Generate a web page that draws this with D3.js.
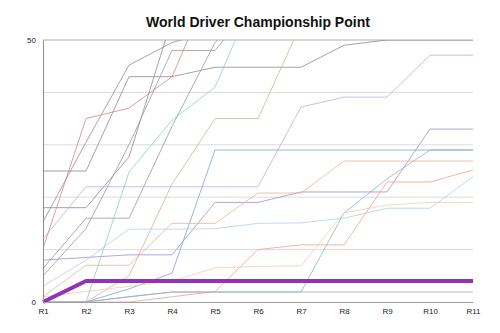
<!DOCTYPE html>
<html>
<head>
<meta charset="utf-8">
<script src="https://cdn.jsdelivr.net/npm/d3@7"></script>
<style>
  html, body { margin: 0; padding: 0; background: #fff; }
  svg { display: block; }
</style>
</head>
<body>
<svg id="chart" width="500" height="333"></svg>
<script>
// Rounds of the season
const rounds = ["R1", "R2", "R3", "R4", "R5", "R6", "R7", "R8", "R9", "R10", "R11"];
const yTicks = [0, 50];
const gridValues = [10, 20, 30, 40];

// Cumulative points per driver (values above 50 run off the top of the plot)
const driverA = [15.3, 30.5, 45.2, 49.5, 52, 56, 58, 60, 62, 64, 66];
const driverB = [25, 25, 43, 43, 44.8, 44.8, 44.8, 49, 50, 50, 50];
const driverC = [18, 18, 27.7, 54, 60, 62, 64, 66, 68, 70, 72];
const driverD = [6.4, 16, 16, 33.5, 49.5, 58, 60, 62, 64, 66, 68];
const driverE = [0, 0, 5, 22.5, 35, 35, 53, 58, 60, 62, 64];
const driverF = [12, 22, 22, 22, 22, 22, 37.2, 39.1, 39.1, 47.1, 47.1];
const driverG = [8, 8.5, 9, 9, 19, 19, 21, 21, 21, 33, 33];
const driverH = [0, 0, 2.5, 5.5, 29, 29, 29, 29, 29, 29, 29];
const driverJ = [0, 0, 1, 1.9, 1.9, 1.9, 1.9, 17, 23.5, 29, 29];
const driverK = [0, 0, 1, 1.9, 1.9, 1.9, 1.9, 1.9, 1.9, 1.9, 1.9];
const driverL = [0, 0, 0, 1, 2, 10, 10.9, 10.9, 22.9, 22.9, 25.2];
const driverM = [3, 8, 13.9, 13.9, 14, 15, 15.1, 16, 17.9, 17.9, 23.9];
const driverN = [1, 2, 3, 4, 6.5, 6.8, 6.9, 17, 18.5, 19, 19];
const driverO = [1, 7, 7, 15, 15, 20.8, 20.8, 26.9, 26.9, 26.9, 26.9];
const driverP = [0, 0, 24.8, 34.7, 41, 60, 62, 64, 66, 68, 70];
const driverQ = [5, 14, 30, 48, 48, 58, 60, 62, 64, 66, 68];
const driverR = [10.2, 35, 37, 43, 62, 66, 70, 72, 74, 76, 78];
const highlighted = [0, 4, 4, 4, 4, 4, 4, 4, 4, 4, 4];

const series = [
  { values: driverA, color: "#8f8f96" },
  { values: driverB, color: "#8a8a8a" },
  { values: driverC, color: "#8e8898" },
  { values: driverD, color: "#9a9aa0" },
  { values: driverE, color: "#cbb68e" },
  { values: driverF, color: "#b6b0e6" },
  { values: driverG, color: "#9d8fd2" },
  { values: driverH, color: "#7fa4cc" },
  { values: driverJ, color: "#8ab6c4" },
  { values: driverK, color: "#a9a3c6" },
  { values: driverL, color: "#eba385" },
  { values: driverM, color: "#acd0ea" },
  { values: driverN, color: "#f3cbae" },
  { values: driverO, color: "#efb38f" },
  { values: driverP, color: "#8fcad4" },
  { values: driverQ, color: "#9a9aa2" },
  { values: driverR, color: "#d9887c" }
];

const svg = d3.select("#chart");
const width = 500, height = 333;
const margin = { top: 40, right: 27, bottom: 31, left: 43 };

const x = d3.scalePoint().domain(rounds).range([margin.left, width - margin.right]);
const y = d3.scaleLinear().domain([0, 50]).range([height - margin.bottom, margin.top]);

// Title
svg.append("text")
  .attr("x", 258)
  .attr("y", 27)
  .attr("text-anchor", "middle")
  .attr("font-family", "Liberation Sans, Arial, sans-serif")
  .attr("font-weight", "bold")
  .attr("font-size", 14)
  .attr("fill", "#111")
  .text("World Driver Championship Point");

// Horizontal gridlines
svg.append("g")
  .selectAll("line")
  .data(gridValues)
  .join("line")
  .attr("x1", margin.left)
  .attr("x2", width - margin.right)
  .attr("y1", d => y(d))
  .attr("y2", d => y(d))
  .attr("stroke", "#dcdcdc")
  .attr("stroke-width", 1);

// Top gridline at the axis maximum
svg.append("line")
  .attr("x1", margin.left)
  .attr("x2", width - margin.right)
  .attr("y1", y(50))
  .attr("y2", y(50))
  .attr("stroke", "#d6d6d6")
  .attr("stroke-width", 2);

// Clip region for the lines
svg.append("clipPath").attr("id", "plot-clip")
  .append("rect")
  .attr("x", margin.left - 4)
  .attr("y", y(50))
  .attr("width", width - margin.left - margin.right + 8)
  .attr("height", y(0) - y(50) + 4);

const line = d3.line()
  .x((d, i) => x(rounds[i]))
  .y(d => y(d));

const lines = svg.append("g").attr("clip-path", "url(#plot-clip)");

lines.selectAll("path.driver")
  .data(series)
  .join("path")
  .attr("class", "driver")
  .attr("d", d => line(d.values))
  .attr("fill", "none")
  .attr("stroke", d => d.color)
  .attr("stroke-width", 0.8);

// Y axis
const yAxis = svg.append("g")
  .attr("transform", `translate(${margin.left},0)`)
  .call(d3.axisLeft(y).tickValues(yTicks).tickSize(0).tickPadding(7));
yAxis.select(".domain").attr("stroke", "#8c8c8c").attr("stroke-width", 1);
yAxis.selectAll("text")
  .attr("font-family", "Liberation Sans, Arial, sans-serif")
  .attr("font-size", 8)
  .attr("fill", "#222");

// X axis
const xAxis = svg.append("g")
  .attr("transform", `translate(0,${y(0)})`)
  .call(d3.axisBottom(x).tickSize(0).tickPadding(6));
xAxis.select(".domain").attr("stroke", "#a0a0a0").attr("stroke-width", 1);
xAxis.selectAll("text")
  .attr("font-family", "Liberation Sans, Arial, sans-serif")
  .attr("font-size", 8)
  .attr("fill", "#222");

// Highlighted driver drawn on top
lines.append("path")
  .attr("d", line(highlighted))
  .attr("fill", "none")
  .attr("stroke", "#9132b8")
  .attr("stroke-width", 4)
  .attr("stroke-linejoin", "round");
</script>
</body>
</html>
